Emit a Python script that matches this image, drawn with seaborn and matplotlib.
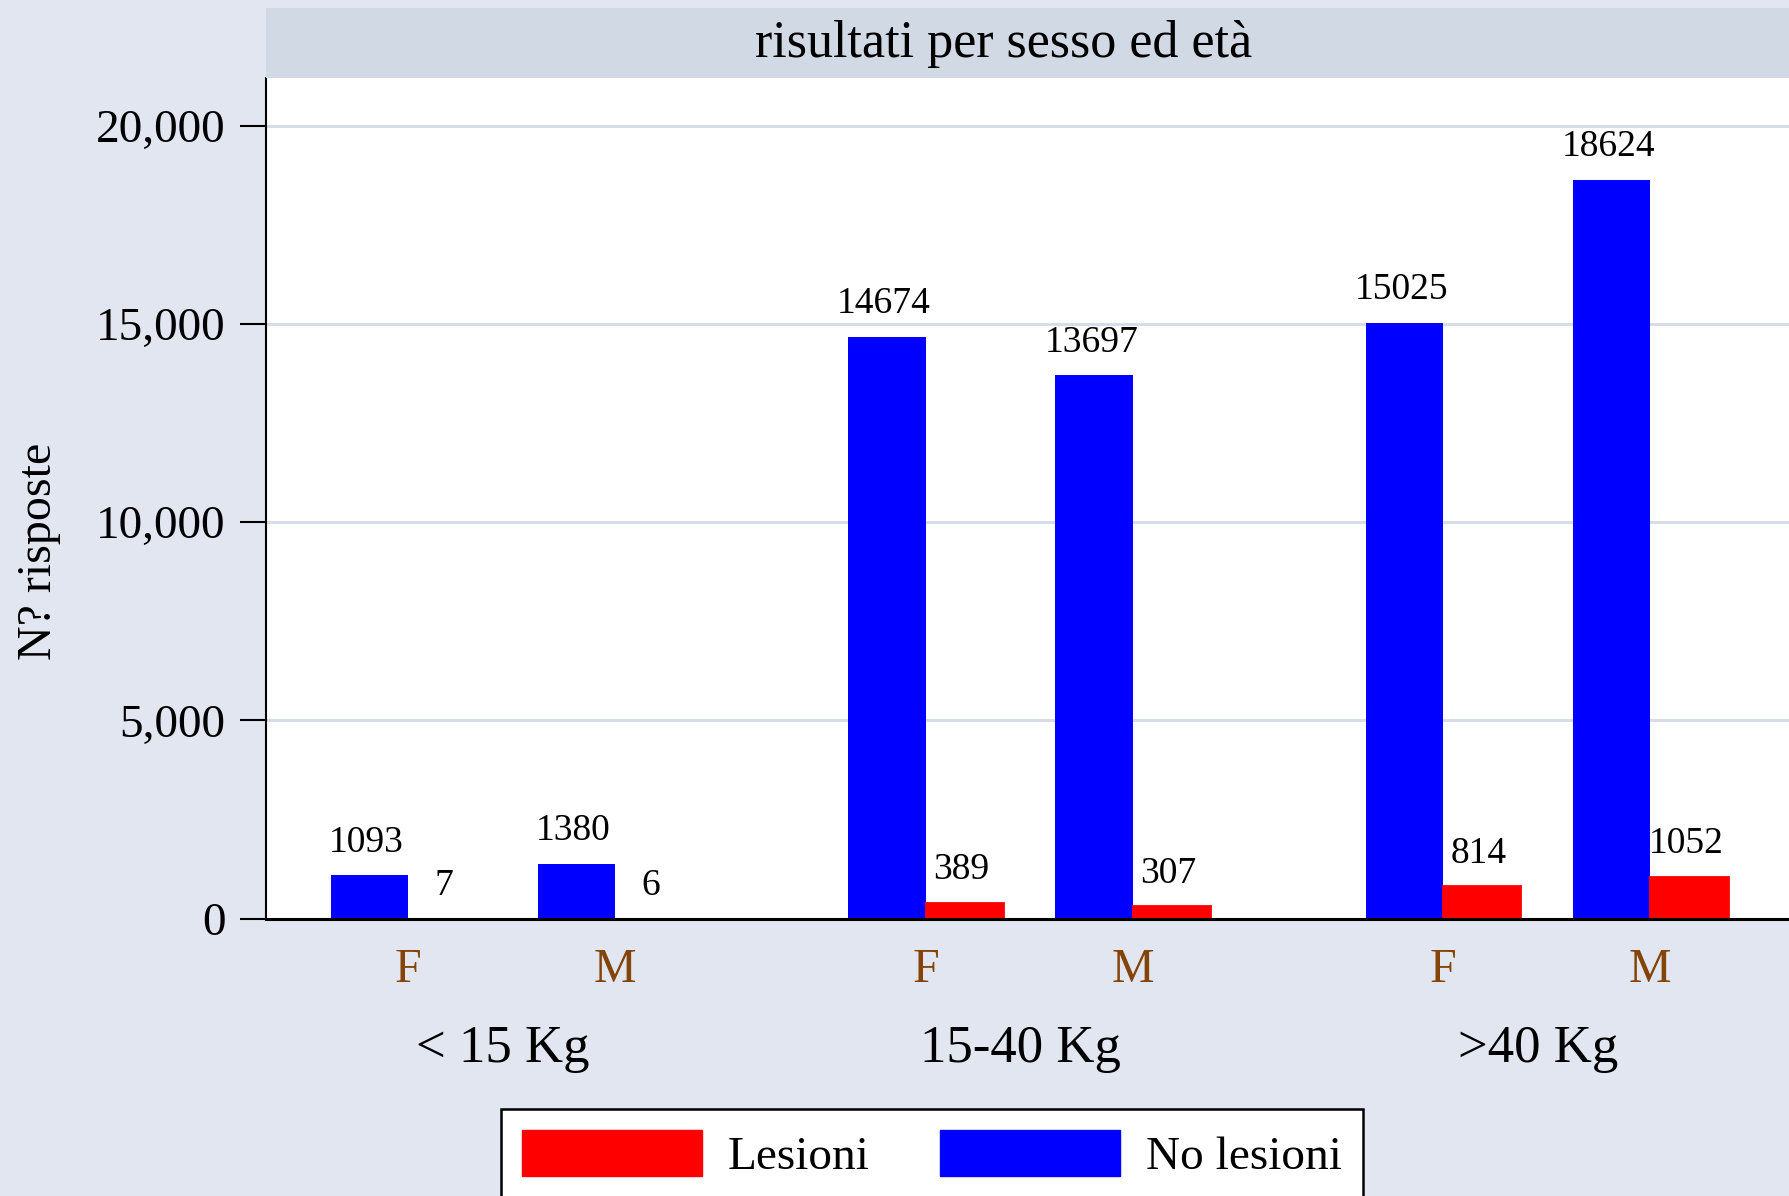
import matplotlib
matplotlib.use("Agg")
import matplotlib.pyplot as plt
import matplotlib.transforms as mtransforms
from matplotlib.patches import Patch, Rectangle
import seaborn as sns
import pandas as pd

# ---- data ----
groups = ["< 15 Kg", "15-40 Kg", ">40 Kg"]
sexes = ["F", "M"]
no_lesioni = [1093, 1380, 14674, 13697, 15025, 18624]
lesioni = [7, 6, 389, 307, 814, 1052]
series_names = ["Lesioni", "No lesioni"]
yticks = [0, 5000, 10000, 15000, 20000]
ytick_labels = ["0", "5,000", "10,000", "15,000", "20,000"]
title = "risultati per sesso ed età"
ylabel = "N? risposte"

# ---- layout helpers ----
W, H = 1789, 1196
SUB_GAP, GROUP_GAP = 1.0, 2.5
pos = []
for g in range(len(groups)):
    for s in range(len(sexes)):
        pos.append(g * GROUP_GAP + s * SUB_GAP)

rows = []
for i, p in enumerate(pos):
    rows.append({"x": p, "serie": "No lesioni", "n": no_lesioni[i]})
    rows.append({"x": p, "serie": "Lesioni", "n": lesioni[i]})
df = pd.DataFrame(rows)

plt.rcParams["font.family"] = ["Liberation Serif", "DejaVu Serif"]

BG = "#E1E6F0"
BAND = "#D1D9E4"
GRID = "#D6DDE9"
BLUE = "#0000FF"
RED = "#FF0000"
BROWN = "#844408"

fig = plt.figure(figsize=(W / 100, H / 100), dpi=100, facecolor=BG)
ax = fig.add_axes([266 / W, 1 - 918.5 / H, 1 - 266 / W, (918.5 - 78) / H])
ax.set_facecolor("white")

sns.barplot(data=df, x="x", y="n", hue="serie", hue_order=["No lesioni", "Lesioni"],
            palette={"No lesioni": BLUE, "Lesioni": RED}, native_scale=True,
            width=0.746, errorbar=None, ax=ax, saturation=1, legend=False)

ax.set_xlim(-0.685, 6.67)
ax.set_ylim(0, 21198)

# style bars + value labels
for patch in ax.patches:
    fc = patch.get_facecolor()
    h = patch.get_height()
    if h != h:
        continue
    if fc[0] > 0.9 and fc[2] < 0.1 and h > 100:  # visible red bars get an outline
        patch.set_edgecolor(RED)
        patch.set_linewidth(2.0)
    else:
        patch.set_linewidth(0)
    cx = patch.get_x() + patch.get_width() / 2
    ax.annotate(f"{int(round(h))}", (cx, h), xytext=(-2, 17), textcoords="offset points",
                ha="center", va="baseline", fontsize=27)

# grid
ax.set_axisbelow(True)
for yv in yticks[1:]:
    ax.axhline(yv, color=GRID, lw=2.2, zorder=0)

# y axis
ax.set_yticks(yticks)
ax.set_yticklabels(ytick_labels, fontsize=34)
ax.tick_params(axis="y", length=18.7, width=1.5, pad=10.5, color="black")
ax.set_ylabel("")

# x axis
ax.set_xticks(pos)
ax.set_xticklabels(sexes * len(groups), fontsize=34.5, color=BROWN)
ax.tick_params(axis="x", length=0, pad=21.5)
ax.set_xlabel("")

for side in ["top", "right"]:
    ax.spines[side].set_visible(False)
ax.spines["left"].set_linewidth(1.5)
ax.spines["bottom"].set_linewidth(2.2)
ax.spines["bottom"].set_zorder(5)

# group labels
trans = mtransforms.blended_transform_factory(ax.transData, fig.transFigure)
shift = mtransforms.ScaledTranslation(-9 / 100, 0, fig.dpi_scale_trans)
for g, name in enumerate(groups):
    cx = (pos[2 * g] + pos[2 * g + 1]) / 2
    ax.text(cx, 1 - 1062 / H, name, transform=trans + shift, ha="center", va="baseline",
            fontsize=38, clip_on=False)

# title band
fig.patches.append(Rectangle((266 / W, 1 - 78 / H), 1 - 266 / W, 70 / H,
                             transform=fig.transFigure, facecolor=BAND, edgecolor="none", zorder=0))
fig.text(1004 / W, 1 - 57 / H, title, ha="center", va="baseline", fontsize=37.5)

# y label
fig.text(39 / W, 1 - 551 / H, ylabel, rotation=90, ha="center", va="center", fontsize=34.5)

# legend
handles = [Patch(facecolor=RED, edgecolor=RED), Patch(facecolor=BLUE, edgecolor=BLUE)]
leg = fig.legend(handles, series_names, loc="upper left",
                 bbox_to_anchor=(501 / W, 1 - 1109 / H), ncol=2, fontsize=34,
                 frameon=True, fancybox=False, edgecolor="black", framealpha=1,
                 handlelength=3.8, handleheight=1.1, handletextpad=0.55,
                 columnspacing=1.5, borderpad=0.45, borderaxespad=0)
leg.get_frame().set_linewidth(1.8)

fig.savefig("out.png", dpi=100, facecolor=BG)
